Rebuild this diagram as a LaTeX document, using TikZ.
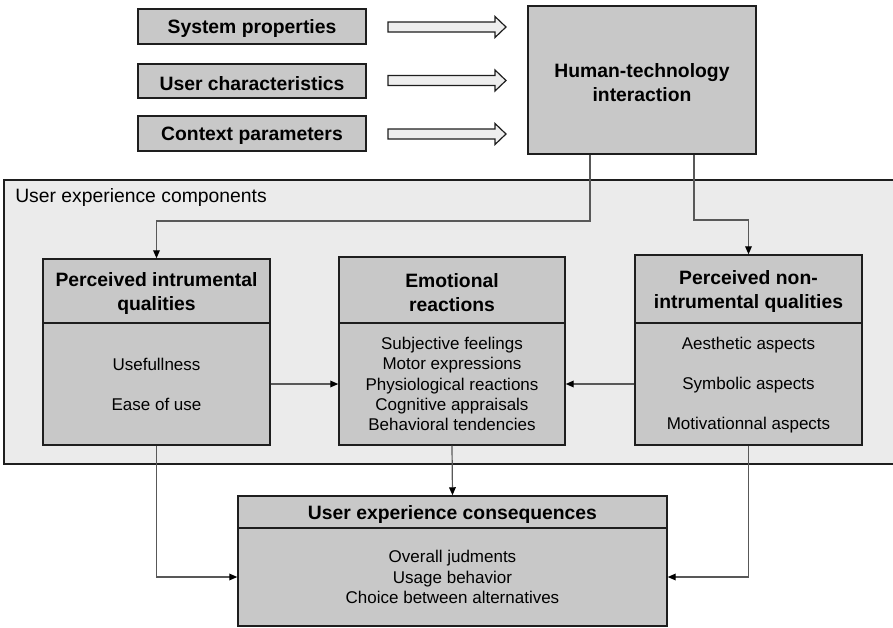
\documentclass[tikz,border=0pt]{standalone}
\usepackage{fontspec}
\setmainfont{Liberation Sans}
\usetikzlibrary{fit,arrows.meta}
\definecolor{boxfill}{HTML}{C8C8C8}
\definecolor{panelfill}{HTML}{EBEBEB}
\definecolor{arrowfill}{HTML}{EEEEEE}
\definecolor{boxline}{HTML}{1E1E1E}
\definecolor{connline}{HTML}{585858}
\tikzset{
  box/.style={draw=boxline, fill=boxfill, line width=1.1pt, inner sep=0pt},
  panel/.style={draw=boxline, fill=panelfill, line width=0.9pt, inner sep=0pt},
  ttl/.style={font=\fontsize{14.5}{18}\selectfont\bfseries, align=center, inner sep=0pt, anchor=center, yshift=-1.8pt},
  bdy/.style={font=\fontsize{12.75}{15.2}\selectfont, align=center, inner sep=0pt, anchor=center},
  lbl/.style={font=\fontsize{14.5}{17.5}\selectfont, inner sep=0pt},
  blockarrow/.style={draw=boxline, fill=arrowfill, line width=0.9pt, line join=miter},
  conn/.style={draw=connline, line width=0.9pt, -{Triangle[length=6pt,width=5pt,color=black]}},
}
\begin{document}
\begin{tikzpicture}[x=0.75pt,y=-0.75pt]
\useasboundingbox (0,0) rectangle (893,628);

% input boxes
\node[box, fit={(138,9) (366,44)}] (sp) {};
\node[ttl] (spt) at (sp.center) {System properties};
\node[box, fit={(138,64) (366,98)}] (uc) {};
\node[ttl] (uct) at (uc.center) {User characteristics};
\node[box, fit={(138,116) (366,151)}] (cp) {};
\node[ttl] (cpt) at (cp.center) {Context parameters};

% block arrows
\foreach \c in {27,80.5,134}{
  \draw[blockarrow] (388,{\c-5}) -- (495,{\c-5}) -- (495,{\c-10.5}) -- (506,\c)
     -- (495,{\c+10.5}) -- (495,{\c+5}) -- (388,{\c+5}) -- cycle;
}

% human-technology interaction
\node[box, fit={(528,6) (756,154)}] (hti) {};
\node[ttl] (htit) at (hti.center) {Human-technology\\interaction};

% panel
\node[panel, fit={(4,180) (897,464)}] (uxc) {};
\node[lbl, anchor=west] (uxl) at (15,197) {User experience components};

% perceived instrumental qualities
\node[box, fit={(43,259) (270,323)}] (pih) {};
\node[ttl] (piht) at (pih.center) {Perceived intrumental\\qualities};
\node[box, fit={(43,323) (270,445)}] (pib) {};
\node[bdy] (pibt) at (pib.center) {Usefullness\\[14.8pt]Ease of use};

% emotional reactions
\node[box, fit={(339,257) (565,323)}] (emh) {};
\node[ttl] (emht) at (emh.center) {Emotional\\reactions};
\node[box, fit={(339,323) (565,445)}] (emb) {};
\node[bdy] (embt) at (emb.center) {Subjective feelings\\Motor expressions\\Physiological reactions\\Cognitive appraisals\\Behavioral tendencies};

% perceived non-instrumental qualities
\node[box, fit={(635,255) (862,323)}] (pnh) {};
\node[ttl] (pnht) at (pnh.center) {Perceived non-\\intrumental qualities};
\node[box, fit={(635,323) (862,445)}] (pnb) {};
\node[bdy] (pnbt) at ([yshift=-1pt]pnb.center) {Aesthetic aspects\\[14.8pt]Symbolic aspects\\[14.8pt]Motivationnal aspects};

% consequences
\node[box, fit={(238,496) (667,528)}] (ch) {};
\node[ttl] (cht) at (ch.center) {User experience consequences};
\node[box, fit={(238,528) (667,626)}] (cb) {};
\node[bdy] (cbt) at (cb.center) {Overall judments\\Usage behavior\\Choice between alternatives};

% connectors
\draw[conn] (590,0 |- hti.south) -- (590,221) -| (pih.north);
\draw[conn] (694,0 |- hti.south) -- (694,220) -| (pnh.north);
\draw[conn] (pib.east) -- (emb.west);
\draw[conn] (pnb.west) -- (emb.east);
\draw[conn] (emb.south) -- (ch.north);
\draw[conn] (pib.south) |- (cb.west);
\draw[conn] (pnb.south) |- (cb.east);
\end{tikzpicture}
\end{document}
